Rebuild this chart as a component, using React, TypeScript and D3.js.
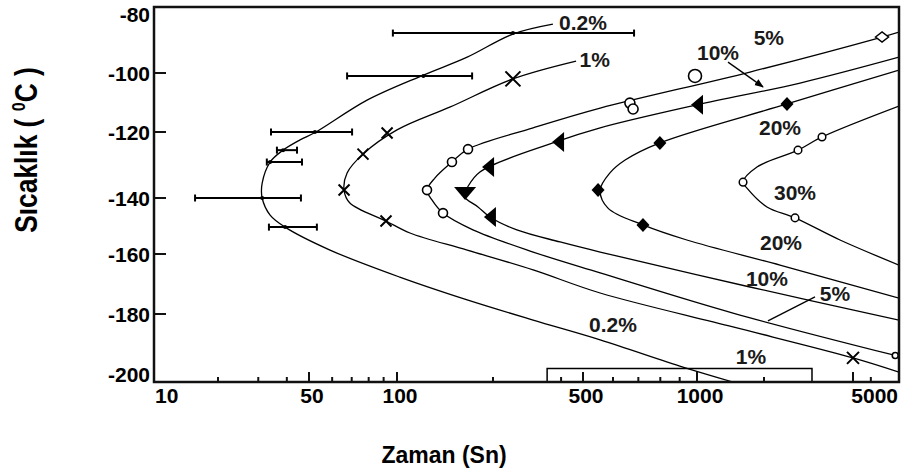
import React from 'react';
import * as d3 from 'd3';

// ---------- data (time in s, temperature in °C) ----------
const xMajorTicks = [10, 50, 100, 500, 1000, 5000];
const xMinorTicks = [20, 30, 40, 60, 70, 80, 90, 200, 400, 600, 700, 800, 900, 2000, 6000];
const yTickValues = [-80, -100, -120, -140, -160, -180, -200];

const curve02 = [[368, -85.2], [245, -88.2], [166, -95.2], [121, -100.7], [79, -109.2], [52.8, -120], [45.7, -122.4], [38.5, -125.5], [33.8, -129.1], [31.2, -135.5], [31.2, -140], [33.8, -146.1], [39.3, -150.4], [59, -158.6], [102, -167.7], [166, -175.3], [301, -181.8], [555, -187.6], [918, -195.6], [1451, -200]];
const curve1 = [[466, -96.4], [245, -102], [147, -111.5], [100, -119.3], [76.5, -126.7], [67.5, -132.4], [65.9, -137.6], [69, -141.8], [91.7, -148.2], [109.8, -152.5], [166, -158.6], [301, -165.3], [555, -173], [1451, -183.8], [5000, -192.9], [8000, -197.1]];
const curve5 = [[8000, -87.6], [6727, -89.1], [1730, -99.7], [555, -111.9], [301, -118.6], [167, -125.2], [148.7, -129.1], [131.6, -133.9], [124.2, -137.6], [128.7, -140.7], [139.4, -145.4], [173, -151.4], [301, -159.3], [555, -166.3], [1451, -179.7], [7700, -192.2]];
const curve10 = [[8000, -95.2], [2898, -103.4], [1000, -110.8], [555, -118.6], [368, -123.3], [182, -132.1], [166, -136.9], [162, -139.4], [179.5, -143.2], [195.6, -146.8], [255, -151.4], [396, -155.7], [555, -159.3], [1730, -171], [8000, -181.8]];
const curve20 = [[8000, -99.1], [2534, -110.5], [798, -123.3], [646, -128.5], [589, -132.4], [555, -137.6], [582, -143.6], [720, -149.6], [940, -155], [2358, -163.7], [8000, -174.7]];
const curve30 = [[8000, -111.2], [3634, -121.5], [2838, -125.5], [1860, -130.6], [1610, -135.2], [1677, -137], [2062, -143.2], [2753, -147.1], [4374, -155], [8000, -163.7]];

// measured points
const points1Cross = [[245, -102], [92.5, -120.3], [76.5, -126.7], [65.9, -137.6], [91.7, -148.2], [5000, -192.9]];
const points5Circle = [[167, -125.2], [148.7, -129.1], [124.2, -137.6], [139.4, -145.4], [665, -110.2], [678, -112.2], [988, -101], [7700, -192.2]];
const points5Diamond = [[6727, -89.1]];
const points10Left = [[1000, -110.8], [388, -123], [193, -130.6], [195.6, -146.8]];
const points10Down = [[163.5, -138.5]];
const points20Diamond = [[2534, -110.5], [798, -123.3], [548, -137.6], [720, -149.6]];
const points30Circle = [[1610, -135.2], [2838, -125.5], [3634, -121.5], [2753, -147.1]];

// 0.2% error bars
const errTemp = [-87.9, -101, -120, -125.5, -129.1, -140, -150.4];
const errTime = [245, 121, 52.4, 38.5, 33.8, 31.2, 39.3];
const errLow = [96.8, 67.5, 34.1, 36.2, 32.7, 15.6, 33.4];
const errHigh = [682, 172, 70.2, 44.3, 46.6, 46.1, 53.2];
const bracketTemp = -196;
const bracketLow = 347;
const bracketHigh = 3278;

// curve labels
const labelText = ['0.2%', '1%', '5%', '10%', '20%', '30%', '20%', '10%', '5%', '0.2%', '1%'];
const labelTime = [500, 537, 2103, 1243, 2358, 2753, 2382, 2062, 4156, 600, 1749];
const labelTemp = [-84.8, -96, -89.1, -93.9, -118.6, -138.2, -155.7, -168.3, -173.3, -183.2, -192.6];
const arrow10 = [[1378, -96.7], [1980, -104.7]];
const leader5 = [[2083, -182], [3382, -174.3]];

// ---------- layout ----------
const W = 904, H = 475;
const xAnchorValues = [10, 20, 50, 100, 200, 500, 1000, 2000, 5000, 8000];
const xAnchorPx = [154, 218, 309, 397, 493, 583, 697, 764, 853, 899];
const yAnchorPx = [7, 73, 132, 198, 254, 314, 382];
const FONT = '"Liberation Sans", Arial, Helvetica, sans-serif';

export default function App() {
  const x = d3.scaleLog().domain(xAnchorValues).range(xAnchorPx);
  const y = d3.scaleLinear().domain(yTickValues).range(yAnchorPx);
  const left = x(10), right = x(8000), top = y(-80), bottom = y(-200);

  const line = d3.line<number[]>()
    .x(d => x(d[0]))
    .y(d => y(d[1]))
    .curve(d3.curveCatmullRom.alpha(0.5));

  const curves = [curve02, curve1, curve5, curve10, curve20, curve30];
  const crossSize = [7.5, 5.5, 5.5, 5.5, 5.5, 6];
  const circle5R = [4.5, 4.5, 4.5, 4.5, 5, 5, 6.5, 3];
  const yLabelDy = (i: number) => (i === 0 ? '0.72em' : i === yTickValues.length - 1 ? '0em' : '0.36em');

  return (
    <svg width={W} height={H} style={{ position: 'absolute', left: 0, top: 0, background: '#fff' }}
      fontFamily={FONT}>
      <defs>
        <clipPath id="plot">
          <rect x={left} y={top} width={right - left} height={bottom - top} />
        </clipPath>
        <marker id="ah" viewBox="0 0 10 10" refX="9" refY="5" markerWidth="7" markerHeight="7" orient="auto">
          <path d="M0,1 L10,5 L0,9 Z" fill="#000" />
        </marker>
      </defs>

      <g clipPath="url(#plot)">
        {curves.map((c, i) => (
          <path key={i} d={line(c) || ''} fill="none" stroke="#000" strokeWidth={1.3} />
        ))}

        {/* error bars of 0.2% curve */}
        {errTemp.map((t, i) => {
          const yy = y(t);
          return (
            <g key={'e' + i} stroke="#000" strokeWidth={2}>
              <line x1={x(errLow[i])} x2={x(errHigh[i])} y1={yy} y2={yy} />
              <line x1={x(errLow[i])} x2={x(errLow[i])} y1={yy - 3.5} y2={yy + 3.5} />
              <line x1={x(errHigh[i])} x2={x(errHigh[i])} y1={yy - 3.5} y2={yy + 3.5} />
              <circle cx={x(errTime[i])} cy={yy} r={2} fill="#000" stroke="none" />
            </g>
          );
        })}
        <path d={`M${x(bracketLow)},${y(-200)} V${y(bracketTemp)} H${x(bracketHigh)} V${y(-200)}`}
          fill="none" stroke="#000" strokeWidth={1.5} />

        {/* 1% crosses */}
        {points1Cross.map((p, i) => {
          const s = crossSize[i];
          return (
            <path key={'x' + i} transform={`translate(${x(p[0])},${y(p[1])})`}
              d={`M${-s},${-s}L${s},${s}M${-s},${s}L${s},${-s}`} stroke="#000" strokeWidth={2} />
          );
        })}
        {/* 5% circles */}
        {points5Circle.map((p, i) => (
          <circle key={'c5' + i} cx={x(p[0])} cy={y(p[1])} r={circle5R[i]} fill="#fff" stroke="#000" strokeWidth={1.6} />
        ))}
        {points5Diamond.map((p, i) => (
          <path key={'d5' + i} transform={`translate(${x(p[0])},${y(p[1])})`}
            d="M-6.5,0L0,-5L6.5,0L0,5Z" fill="#fff" stroke="#000" strokeWidth={1.5} />
        ))}
        {/* 10% triangles */}
        {points10Left.map((p, i) => (
          <path key={'t' + i} transform={`translate(${x(p[0])},${y(p[1])})`}
            d="M-6,0L6,-10L6,10Z" fill="#000" />
        ))}
        {points10Down.map((p, i) => (
          <path key={'td' + i} transform={`translate(${x(p[0])},${y(p[1])})`}
            d="M-11,-6L11,-6L0,7Z" fill="#000" />
        ))}
        {/* 20% diamonds */}
        {points20Diamond.map((p, i) => (
          <path key={'d20' + i} transform={`translate(${x(p[0])},${y(p[1])})`}
            d="M0,-7L6.5,0L0,7L-6.5,0Z" fill="#000" />
        ))}
        {/* 30% circles */}
        {points30Circle.map((p, i) => (
          <circle key={'c30' + i} cx={x(p[0])} cy={y(p[1])} r={3.8} fill="#fff" stroke="#000" strokeWidth={1.5} />
        ))}
      </g>

      {/* annotations */}
      <line x1={x(arrow10[0][0])} y1={y(arrow10[0][1])} x2={x(arrow10[1][0])} y2={y(arrow10[1][1])}
        stroke="#000" strokeWidth={1.3} markerEnd="url(#ah)" />
      <line x1={x(leader5[0][0])} y1={y(leader5[0][1])} x2={x(leader5[1][0])} y2={y(leader5[1][1])}
        stroke="#000" strokeWidth={1.3} />
      {labelText.map((t, i) => (
        <text key={'l' + i} x={x(labelTime[i])} y={y(labelTemp[i])} dy="0.36em" textAnchor="middle"
          fontSize={21} fontWeight="bold" fill="#1a1a1a">{t}</text>
      ))}

      {/* frame */}
      <rect x={left} y={top} width={right - left} height={bottom - top} fill="none" stroke="#111" strokeWidth={2.5} />

      {/* y ticks */}
      {yTickValues.map((v, i) => (
        <g key={'yt' + v}>
          <line x1={left} x2={left + 12} y1={y(v)} y2={y(v)} stroke="#111" strokeWidth={2} />
          <text x={left - 4} y={y(v)} dy={yLabelDy(i)} textAnchor="end" fontSize={21} fontWeight="bold" fill="#000">{v}</text>
        </g>
      ))}
      {/* x ticks */}
      {xMajorTicks.map((v, i) => (
        <g key={'xt' + v}>
          <line x1={x(v)} x2={x(v)} y1={bottom} y2={bottom - 10} stroke="#111" strokeWidth={2} />
          <text x={i === 0 ? left + 1 : i === xMajorTicks.length - 1 ? right - 1 : x(v) + 3} y={bottom + 21}
            textAnchor={i === 0 ? 'start' : i === xMajorTicks.length - 1 ? 'end' : 'middle'}
            fontSize={21} fontWeight="bold" fill="#000">{v}</text>
        </g>
      ))}
      {xMinorTicks.map(v => (
        <line key={'xm' + v} x1={x(v)} x2={x(v)} y1={bottom} y2={bottom - 5} stroke="#111" strokeWidth={2} />
      ))}

      {/* axis titles */}
      <text transform="translate(37,150) rotate(-90) scale(0.85,1)" textAnchor="middle"
        fontSize={31} fontWeight="bold" fill="#000">
        Sıcaklık ( <tspan fontSize={19} dy={-12}>0</tspan><tspan dy={12}>C )</tspan>
      </text>
      <text x={444} y={463} textAnchor="middle" fontSize={23} fontWeight="bold" fill="#000">Zaman (Sn)</text>
    </svg>
  );
}
